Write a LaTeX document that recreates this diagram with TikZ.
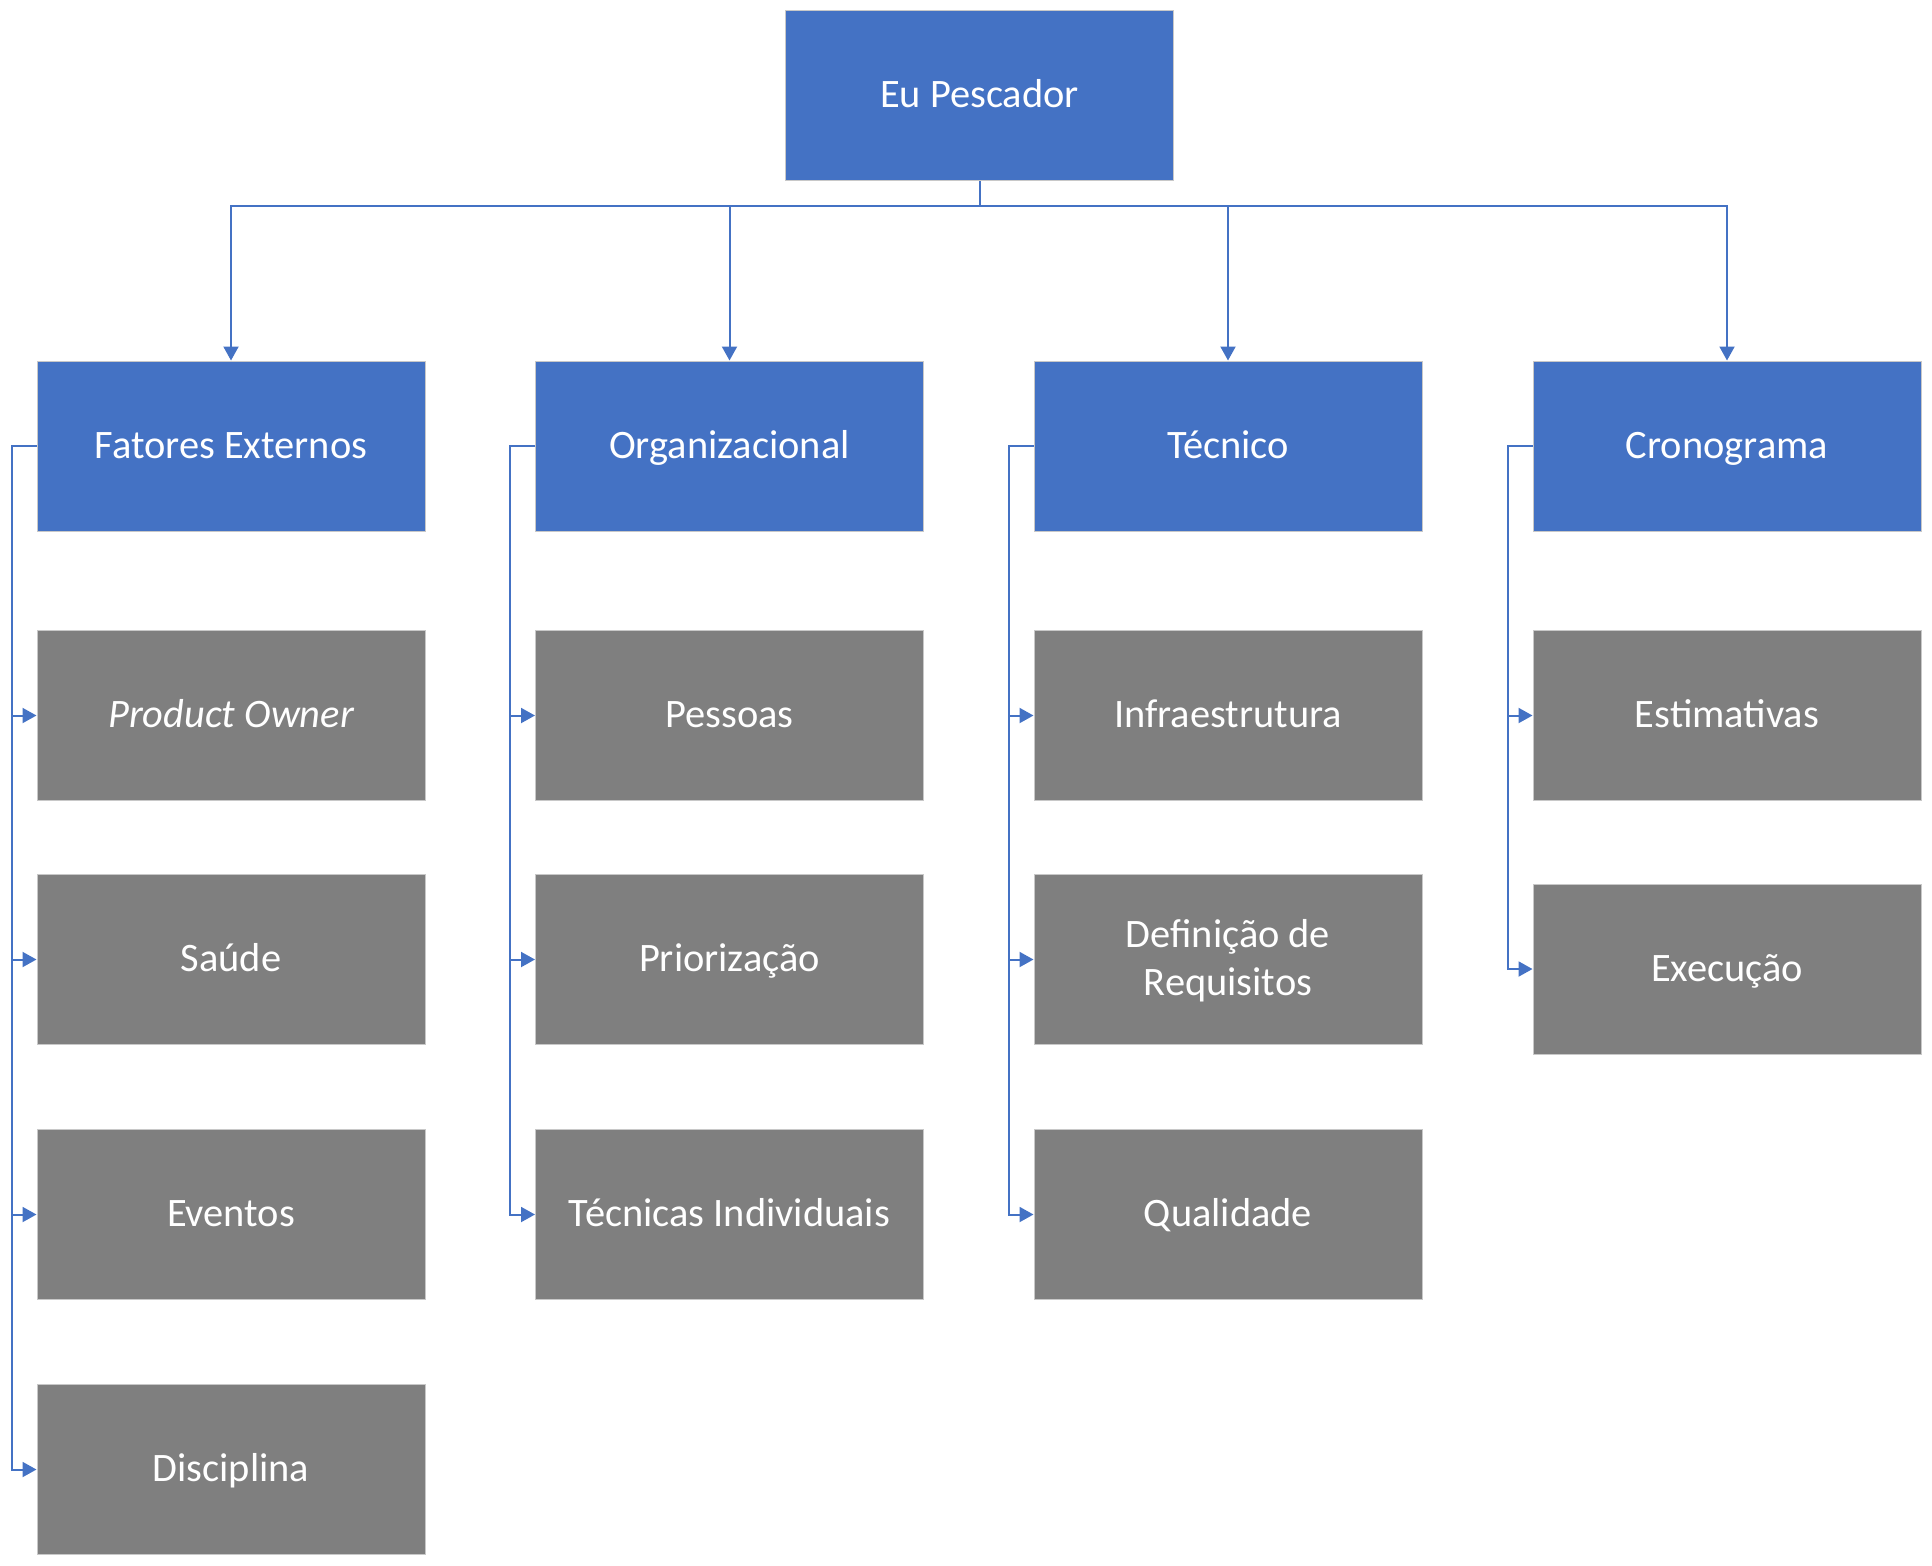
\documentclass[tikz,border=0pt]{standalone}
\usepackage{fontspec}
\setmainfont{Carlito}
\usepackage{tikz}
\usetikzlibrary{arrows.meta,positioning,calc}

\definecolor{boxblue}{HTML}{4472C4}
\definecolor{boxgray}{HTML}{7F7F7F}
\definecolor{boxedge}{HTML}{C8C8C8}

\begin{document}
\begin{tikzpicture}[x=0.5pt,y=-0.5pt,
  box/.style={draw=boxedge,line width=0.5pt,minimum width=194pt,minimum height=85pt,
    inner sep=0pt,align=center,text=white,text height=16pt,text depth=4pt,
    font=\fontsize{20.2}{24}\selectfont},
  topbox/.style={box,fill=boxblue},
  subbox/.style={box,fill=boxgray},
  link/.style={draw=boxblue,line width=1pt,-{Triangle[length=7pt,width=7.5pt]}},
]
\useasboundingbox (0,0) rectangle (1932,1565);
%%
\node (root) at (979.5,95.5) [topbox] {Eu Pescador};
\node (fe) at (231,446) [topbox] {Fatores Externos};
\node (org) at (729.5,446) [topbox] {Organizacional};
\node (tec) at (1228,446) [topbox] {Técnico};
\node (cro) at (1727,446) [topbox] {Cronograma};
%
\node (po) at (231,715.5) [subbox] {\itshape Product Owner};
\node (sau) at (231,959.5) [subbox] {Saúde};
\node (eve) at (231,1214.5) [subbox] {Eventos};
\node (dis) at (231,1469.5) [subbox] {Disciplina};
%
\node (pes) at (729.5,715.5) [subbox] {Pessoas};
\node (pri) at (729.5,959.5) [subbox] {Priorização};
\node (ind) at (729.5,1214.5) [subbox] {Técnicas Individuais};
%
\node (inf) at (1228,715.5) [subbox] {Infraestrutura};
\node (req) at (1228,959.5) [subbox,text height=40pt] {Definição de\\Requisitos};
\node (qua) at (1228,1214.5) [subbox] {Qualidade};
%
\node (est) at (1727,715.5) [subbox] {Estimativas};
\node (exe) at (1727,969) [subbox] {Execução};
%
\coordinate (bus) at (979.5,206);
\foreach \t in {fe,org,tec,cro}
  \draw [link] (root.south) -- (bus) -| (\t.north);
%
\foreach \p/\c in {fe/po,fe/sau,fe/eve,fe/dis,org/pes,org/pri,org/ind,
  tec/inf,tec/req,tec/qua,cro/est,cro/exe}
  \draw [link] (\p.west) -- ++(-25,0) |- (\c.west);
%
\end{tikzpicture}
\end{document}
